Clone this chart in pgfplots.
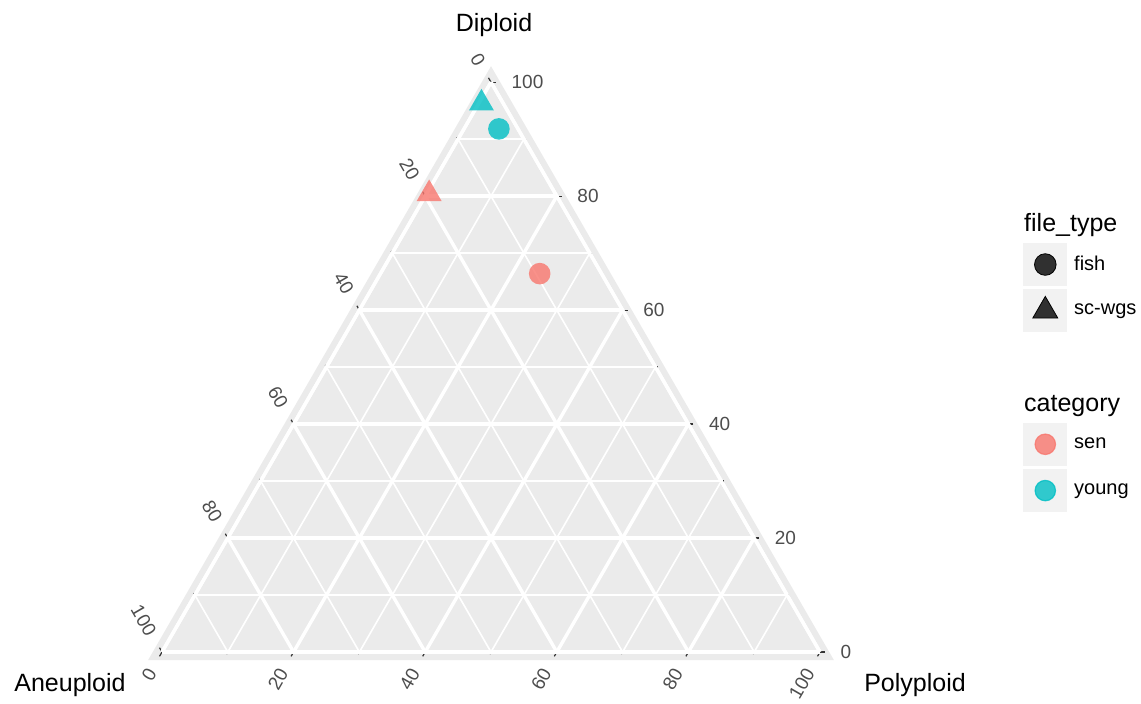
\documentclass[border=0pt]{standalone}
\usepackage{pgfplots}
\pgfplotsset{compat=1.18}
\usepgfplotslibrary{ternary}
\usepackage{fontspec}
\setmainfont{Liberation Sans}
\definecolor{panelbg}{HTML}{EBEBEB}
\definecolor{keybg}{HTML}{F2F2F2}
\definecolor{senc}{HTML}{F8766D}
\definecolor{youngc}{HTML}{00BFC4}
\definecolor{tickc}{HTML}{333333}
\definecolor{labc}{HTML}{4D4D4D}
\begin{document}
\begin{tikzpicture}
\begin{ternaryaxis}[
  scale only axis, width=329pt, height=285pt,
  xmin=0, xmax=100, ymin=0, ymax=100, zmin=0, zmax=100,
  clip=false,
  xtick={0,20,...,100}, ytick={0,20,...,100}, ztick={0,20,...,100},
  minor tick num=1,
  grid=both,
  major grid style={white, line width=1.7pt},
  minor grid style={white, line width=0.8pt},
  axis line style={white, line width=1.7pt},
  axis background/.style={fill=panelbg, draw=panelbg, line width=8pt, line join=miter},
  tick align=outside,
  major tick length=6.8pt, minor tick length=5.5pt,
  major tick style={tickc, line width=0.6pt, dash pattern=on 0pt off 4.3pt on 2.5pt},
  minor tick style={tickc, line width=0.6pt, dash pattern=on 0pt off 4.3pt on 1.2pt},
  /pgf/number format/assume math mode=true,
  tick label style={font=\fontsize{9.5}{11}\selectfont, text=labc},
  xticklabel style={anchor=west},
  yticklabel style={rotate=-60, anchor=east},
  zticklabel style={rotate=60, anchor=east},
  legend style={at={(1.3085,0.7702)}, anchor=north west, draw=none, fill=none,
    inner sep=0pt, row sep=1.75pt, column sep=3.5pt,
    nodes={inner sep=0pt}, font=\fontsize{10}{12}\selectfont},
  legend cell align=left,
]
% x = Diploid, y = Aneuploid, z = Polyploid
\addplot3[forget plot, only marks, color=senc, mark=*, mark size=5.4pt,
  mark options={fill=senc, fill opacity=0.8, draw opacity=0}] coordinates {(66.4,9.4,24.2)};
\addplot3[forget plot, only marks, color=senc, mark=triangle*, mark size=7.2pt,
  mark options={fill=senc, fill opacity=0.8, draw opacity=0}] coordinates {(80.4,19.2,0.4)};
\addplot3[forget plot, only marks, color=youngc, mark=*, mark size=5.4pt,
  mark options={fill=youngc, fill opacity=0.8, draw opacity=0}] coordinates {(91.8,2.9,5.3)};
\addplot3[forget plot, only marks, color=youngc, mark=triangle*, mark size=7.2pt,
  mark options={fill=youngc, fill opacity=0.8, draw opacity=0}] coordinates {(96.3,3.3,0.4)};

\addlegendimage{empty legend}
\addlegendentry{\hspace*{-25pt}\fontsize{12.5}{15}\selectfont file\_type}
\addlegendimage{legend image code/.code={
  \path (0pt,13pt);
  \fill[keybg] (0pt,-10.5pt) rectangle (21.5pt,10.5pt);
  \draw[mark=*, mark size=5.4pt, mark options={fill=black, fill opacity=0.8, draw=none}]
    plot coordinates {(10.75pt,0pt)};}}
\addlegendentry{fish}
\addlegendimage{legend image code/.code={
  \fill[keybg] (0pt,-10.5pt) rectangle (21.5pt,10.5pt);
  \draw[mark=triangle*, mark size=7.2pt, mark options={fill=black, fill opacity=0.8, draw=none}]
    plot coordinates {(10.75pt,0pt)};}}
\addlegendentry{sc-wgs}
\addlegendimage{empty legend}
\addlegendentry{\rule{0pt}{26.5pt}}
\addlegendimage{empty legend}
\addlegendentry{\hspace*{-25pt}\fontsize{12.5}{15}\selectfont category}
\addlegendimage{legend image code/.code={
  \path (0pt,13pt);
  \fill[keybg] (0pt,-10.5pt) rectangle (21.5pt,10.5pt);
  \draw[mark=*, mark size=5.1pt, mark options={fill=senc, fill opacity=0.8, draw=senc, draw opacity=0.8, line width=0.6pt}]
    plot coordinates {(10.75pt,0pt)};}}
\addlegendentry{sen}
\addlegendimage{legend image code/.code={
  \fill[keybg] (0pt,-10.5pt) rectangle (21.5pt,10.5pt);
  \draw[mark=*, mark size=5.1pt, mark options={fill=youngc, fill opacity=0.8, draw=youngc, draw opacity=0.8, line width=0.6pt}]
    plot coordinates {(10.75pt,0pt)};}}
\addlegendentry{young}

\coordinate (T) at (axis cs:100,0,0);
\coordinate (BL) at (axis cs:0,100,0);
\coordinate (BR) at (axis cs:0,0,100);
\node[font=\fontsize{12.5}{15}\selectfont] at ([xshift=1.5pt,yshift=28.5pt]T) {Diploid};
\node[font=\fontsize{12.5}{15}\selectfont] at ([xshift=-46pt,yshift=-16.5pt]BL) {Aneuploid};
\node[font=\fontsize{12.5}{15}\selectfont] at ([xshift=47.5pt,yshift=-16.5pt]BR) {Polyploid};
\end{ternaryaxis}
\pgfresetboundingbox
\path (BL) ++(-81pt,-25.5pt) rectangle ++(570.5pt,351.5pt);
\end{tikzpicture}
\end{document}
